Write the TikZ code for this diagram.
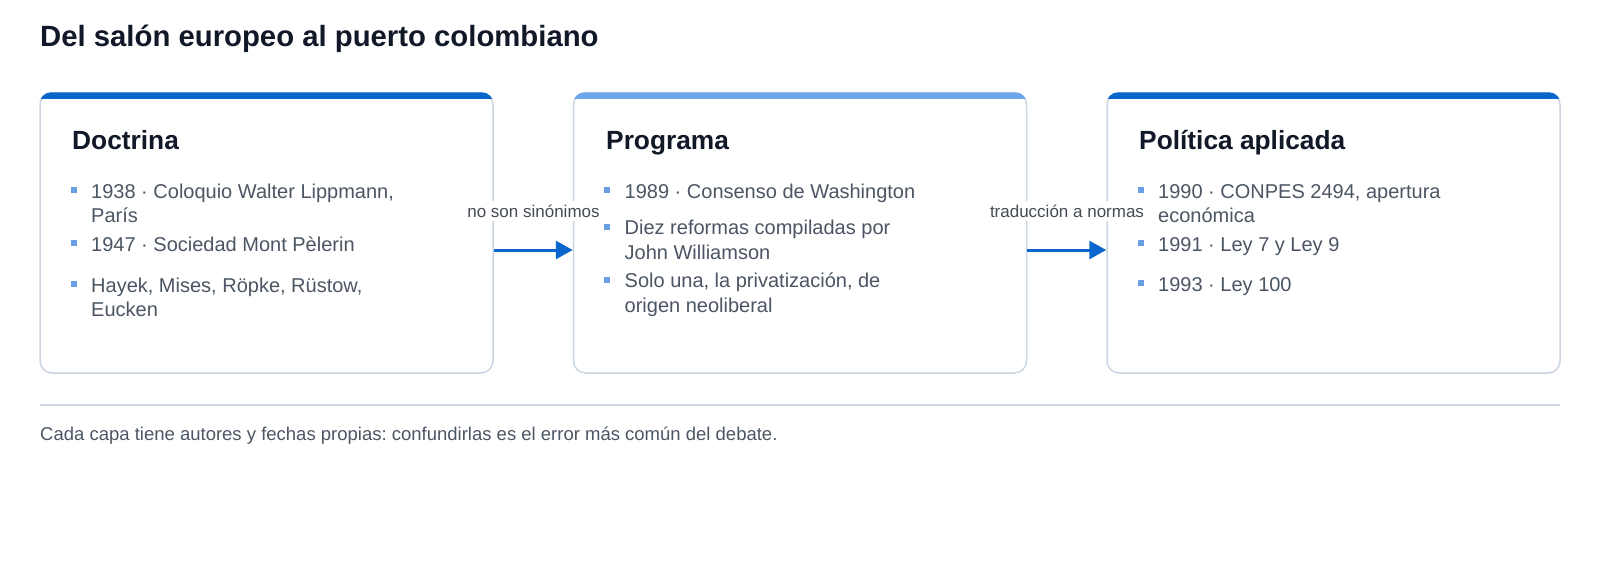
\documentclass[tikz,border=0pt]{standalone}
\usepackage{fontspec}
\setmainfont{Liberation Sans}
\usetikzlibrary{arrows.meta}
\frenchspacing
\definecolor{ink}{HTML}{111827}
\definecolor{txt}{HTML}{4B5563}
\definecolor{bluedeep}{HTML}{0A66CC}
\definecolor{bluesoft}{HTML}{6FA6E9}
\definecolor{bullet}{HTML}{6A9FE2}
\definecolor{edge}{HTML}{CBD5E1}
\definecolor{lbltxt}{HTML}{444B55}
\tikzset{
  card/.style={draw=edge, line width=1.5pt, fill=white, rounded corners=12pt, minimum width=453pt, minimum height=280pt, inner sep=0pt},
  ttl/.style={anchor=base west, inner sep=0pt, text=ink, font=\fontsize{26.3}{30}\selectfont\bfseries},
  itm/.style={anchor=base west, inner sep=0pt, text=txt, align=left, font=\fontsize{20}{24.5}\selectfont},
  bul/.style={fill=bullet, minimum size=6pt, inner sep=0pt},
  lbl/.style={fill=white, inner sep=4pt, text=lbltxt, font=\fontsize{17}{20}\selectfont},
  arr/.style={draw=bluedeep, line width=3pt, -{Triangle[length=17pt,width=18pt]}},
}
\begin{document}
\begin{tikzpicture}[x=1pt,y=-1pt]
\useasboundingbox (0,0) rectangle (1600,560);
\node[anchor=base west, inner sep=0pt, text=ink, font=\fontsize{29.3}{34}\selectfont\bfseries] (title) at (40,46) {Del salón europeo al puerto colombiano};
\node[card] (doc) at (266.5,233) {};
\node[card] (prog) at (800,233) {};
\node[card] (pol) at (1333.5,233) {};
\begin{scope}
\clip[rounded corners=12pt] (doc.north west) rectangle (doc.south east);
\fill[bluedeep] (doc.north west) rectangle ([yshift=-7pt]doc.north east);
\end{scope}
\begin{scope}
\clip[rounded corners=12pt] (prog.north west) rectangle (prog.south east);
\fill[bluesoft] (prog.north west) rectangle ([yshift=-7pt]prog.north east);
\end{scope}
\begin{scope}
\clip[rounded corners=12pt] (pol.north west) rectangle (pol.south east);
\fill[bluedeep] (pol.north west) rectangle ([yshift=-7pt]pol.north east);
\end{scope}
\node[ttl] (docttl) at (72,149) {Doctrina};
\node[bul] (b11) at (73.5,190) {};
\node[itm] (i11) at (91,222.5) {1938 · Coloquio Walter Lippmann,\\París};
\node[bul] (b12) at (73.5,243) {};
\node[itm] (i12) at (91,251) {1947 · Sociedad Mont Pèlerin};
\node[bul] (b13) at (73.5,284) {};
\node[itm] (i13) at (91,316.5) {Hayek, Mises, Röpke, Rüstow,\\Eucken};
\node[ttl] (progttl) at (606,149) {Programa};
\node[bul] (b21) at (607,190) {};
\node[itm] (i21) at (624.5,198) {1989 · Consenso de Washington};
\node[bul] (b22) at (607,226.5) {};
\node[itm] (i22) at (624.5,259) {Diez reformas compiladas por\\John Williamson};
\node[bul] (b23) at (607,279.5) {};
\node[itm] (i23) at (624.5,312) {Solo una, la privatización, de\\origen neoliberal};
\node[ttl] (polttl) at (1139,149) {Política aplicada};
\node[bul] (b31) at (1140.5,190) {};
\node[itm] (i31) at (1158,222.5) {1990 · CONPES 2494, apertura\\económica};
\node[bul] (b32) at (1140.5,243) {};
\node[itm] (i32) at (1158,251) {1991 · Ley 7 y Ley 9};
\node[bul] (b33) at (1140.5,283) {};
\node[itm] (i33) at (1158,291) {1993 · Ley 100};
\draw[arr] ([yshift=-17pt]doc.east) -- ([yshift=-17pt]prog.west);
\draw[arr] ([yshift=-17pt]prog.east) -- ([yshift=-17pt]pol.west);
\node[lbl] (lab1) at (533.5,211) {no son sinónimos};
\node[lbl] (lab2) at (1067,211) {traducción a normas};
\draw[edge, line width=1.2pt] (40,405) -- (1560,405);
\node[anchor=base west, inner sep=0pt, text=txt, font=\fontsize{18.5}{22}\selectfont] (nota) at (40,440) {Cada capa tiene autores y fechas propias: confundirlas es el error más común del debate.};
\end{tikzpicture}
\end{document}
